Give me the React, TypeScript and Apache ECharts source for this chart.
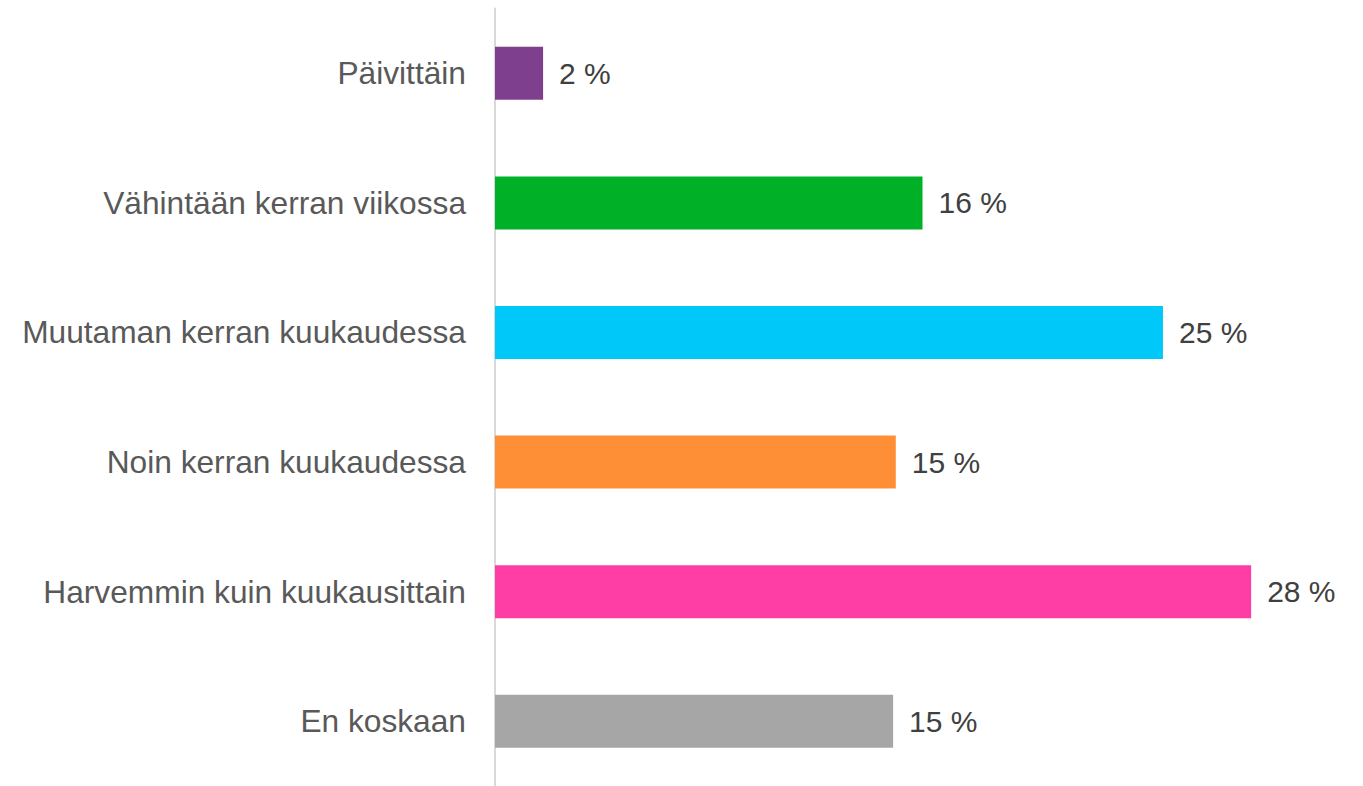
import React, { useEffect, useRef } from "react";
import * as echarts from "echarts";

const categories = [
  "Päivittäin",
  "Vähintään kerran viikossa",
  "Muutaman kerran kuukaudessa",
  "Noin kerran kuukaudessa",
  "Harvemmin kuin kuukausittain",
  "En koskaan",
];
const values = [1.8, 16.0, 25.0, 15.0, 28.3, 14.9];
const colors = ["#7F3F8F", "#00B026", "#00C8F8", "#FF8F36", "#FF3EA5", "#A6A6A6"];

export default function App() {
  const ref = useRef<HTMLDivElement>(null);
  useEffect(() => {
    if (!ref.current) return;
    const chart = echarts.init(ref.current, null, { renderer: "svg" });
    chart.setOption({
      animation: false,
      grid: { left: 495, right: 13, top: 8.5, height: 783, containLabel: false },
      xAxis: {
        type: "value",
        min: 0,
        max: 32,
        show: false,
      },
      yAxis: {
        type: "category",
        inverse: true,
        data: categories,
        axisLine: { show: true, lineStyle: { color: "#D9D9D9", width: 2 } },
        axisTick: { show: false },
        axisLabel: {
          margin: 29,
          color: "#595959",
          fontSize: 31.7,
          fontFamily: "Liberation Sans, Arial, sans-serif",
        },
      },
      series: [
        {
          type: "bar",
          barWidth: 53,
          data: values.map((v, i) => ({ value: v, itemStyle: { color: colors[i] } })),
          label: {
            show: true,
            position: "right",
            distance: 16,
            color: "#404040",
            fontSize: 30,
            fontFamily: "Liberation Sans, Arial, sans-serif",
            formatter: (p: any) => `${Math.round(p.value)} %`,
          },
        },
      ],
    });
    return () => chart.dispose();
  }, []);
  return (
    <div
      ref={ref}
      style={{ position: "fixed", left: 0, top: 0, width: 1363, height: 786, background: "#fff" }}
    />
  );
}
